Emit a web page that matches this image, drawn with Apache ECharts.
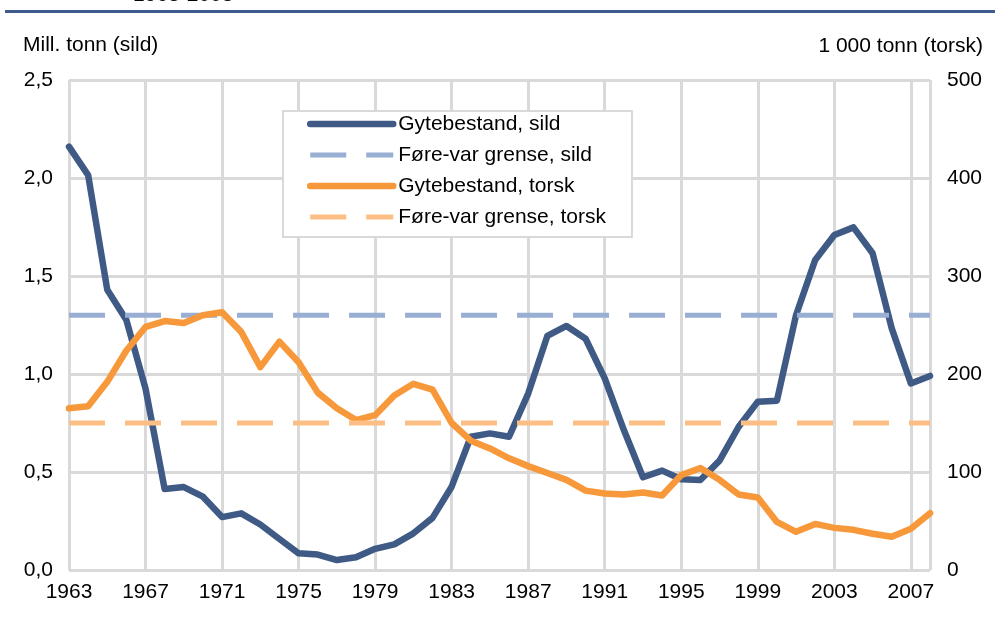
<!DOCTYPE html>
<html><head><meta charset="utf-8">
<script src="https://cdn.jsdelivr.net/npm/echarts@6/dist/echarts.min.js"></script>
<style>html,body{margin:0;padding:0;background:#fff}#c{width:995px;height:620px}</style>
</head><body><div id="c"></div>
<script>
const years = [1963,1964,1965,1966,1967,1968,1969,1970,1971,1972,1973,1974,1975,1976,1977,1978,1979,1980,1981,1982,1983,1984,1985,1986,1987,1988,1989,1990,1991,1992,1993,1994,1995,1996,1997,1998,1999,2000,2001,2002,2003,2004,2005,2006,2007,2008];
const sild = [2.16,2.015,1.43,1.275,0.925,0.413,0.423,0.374,0.27,0.289,0.232,0.158,0.085,0.079,0.051,0.065,0.108,0.131,0.187,0.266,0.425,0.68,0.697,0.68,0.90,1.194,1.245,1.18,0.978,0.714,0.473,0.507,0.463,0.459,0.558,0.731,0.859,0.864,1.301,1.582,1.709,1.748,1.616,1.233,0.952,0.99];
const torsk = [165,167,192,224,248,254,252,260,263,243,207,233,212,181,165,153,158,178,190,184,150,132,124,114,106,99,92,81,78,77,79,76,97,104,92,77,74,49,39,47,43,41,37,34,42,58];
const sildLimit = 1.3;
const torskLimit = 150;
const seriesNames = ['Gytebestand, sild','Føre-var grense, sild','Gytebestand, torsk','Føre-var grense, torsk'];
const leftAxisName = 'Mill. tonn (sild)';
const rightAxisName = '1 000 tonn (torsk)';
const headerText = '1963-2008';

const FONT = '"Liberation Sans", Arial, sans-serif';
const GRID = '#d9d9d9';
const first = years[0], last = years[years.length - 1];
const pairs = arr => years.map((y, i) => [y, arr[i]]);

const chart = echarts.init(document.getElementById('c'), null, {renderer: 'canvas'});
chart.setOption({
  animation: false,
  backgroundColor: '#fff',
  textStyle: {fontFamily: FONT},
  grid: {left: 69, right: 65, top: 80, bottom: 50},
  graphic: [
    {type: 'rect', left: 5, top: 10, shape: {width: 990, height: 3}, style: {fill: '#3d5c8c'}, silent: true},
    {type: 'text', x: 133, y: 6, style: {text: headerText, font: '21px ' + FONT, fill: '#000', verticalAlign: 'bottom', align: 'left'}},
    {type: 'text', x: 23, y: 45, style: {text: leftAxisName, font: '21px ' + FONT, fill: '#000', verticalAlign: 'middle', align: 'left'}},
    {type: 'text', x: 983, y: 46, style: {text: rightAxisName, font: '21px ' + FONT, fill: '#000', verticalAlign: 'middle', align: 'right'}}
  ],
  legend: {
    orient: 'vertical',
    left: 283, top: 111,
    data: seriesNames,
    itemWidth: 83, itemHeight: 14, itemGap: 9,
    padding: [2, 26, 9, 24],
    borderColor: GRID, borderWidth: 2,
    backgroundColor: '#fff',
    itemStyle: {opacity: 0},
    lineStyle: {width: 'inherit'},
    textStyle: {fontSize: 21, color: '#000', fontFamily: FONT, lineHeight: 22}
  },
  xAxis: {
    type: 'value', min: first, max: last, interval: 4,
    axisLine: {show: false}, axisTick: {show: false},
    splitLine: {show: true, lineStyle: {color: GRID, width: 3}},
    axisLabel: {fontSize: 21, color: '#000', margin: 12, showMaxLabel: false,
      formatter: v => (v === last ? '' : String(v))}
  },
  yAxis: [
    {type: 'value', min: 0, max: 2.5, interval: 0.5,
      axisLine: {show: false}, axisTick: {show: false},
      splitLine: {show: true, lineStyle: {color: GRID, width: 3}},
      axisLabel: {fontSize: 21, color: '#000', margin: 16, formatter: v => v.toFixed(1).replace('.', ',')}},
    {type: 'value', min: 0, max: 500, interval: 100, position: 'right',
      axisLine: {show: false}, axisTick: {show: false}, splitLine: {show: false},
      axisLabel: {fontSize: 21, color: '#000', margin: 17}}
  ],
  series: [
    {name: seriesNames[0], type: 'line', yAxisIndex: 0, symbol: 'none', data: pairs(sild),
      lineStyle: {color: '#3e5a85', width: 6.5, cap: 'round', join: 'round'}, itemStyle: {color: '#3e5a85'}},
    {name: seriesNames[1], type: 'line', yAxisIndex: 0, symbol: 'none', data: [[first, sildLimit], [last, sildLimit]],
      lineStyle: {color: '#98aed2', width: 5, type: [36, 20]}, itemStyle: {color: '#98aed2'}},
    {name: seriesNames[2], type: 'line', yAxisIndex: 1, symbol: 'none', data: pairs(torsk),
      lineStyle: {color: '#f7983a', width: 6.5, cap: 'round', join: 'round'}, itemStyle: {color: '#f7983a'}},
    {name: seriesNames[3], type: 'line', yAxisIndex: 1, symbol: 'none', data: [[first, torskLimit], [last, torskLimit]],
      lineStyle: {color: '#fbbf86', width: 5, type: [36, 20]}, itemStyle: {color: '#fbbf86'}}
  ]
});
</script></body></html>
